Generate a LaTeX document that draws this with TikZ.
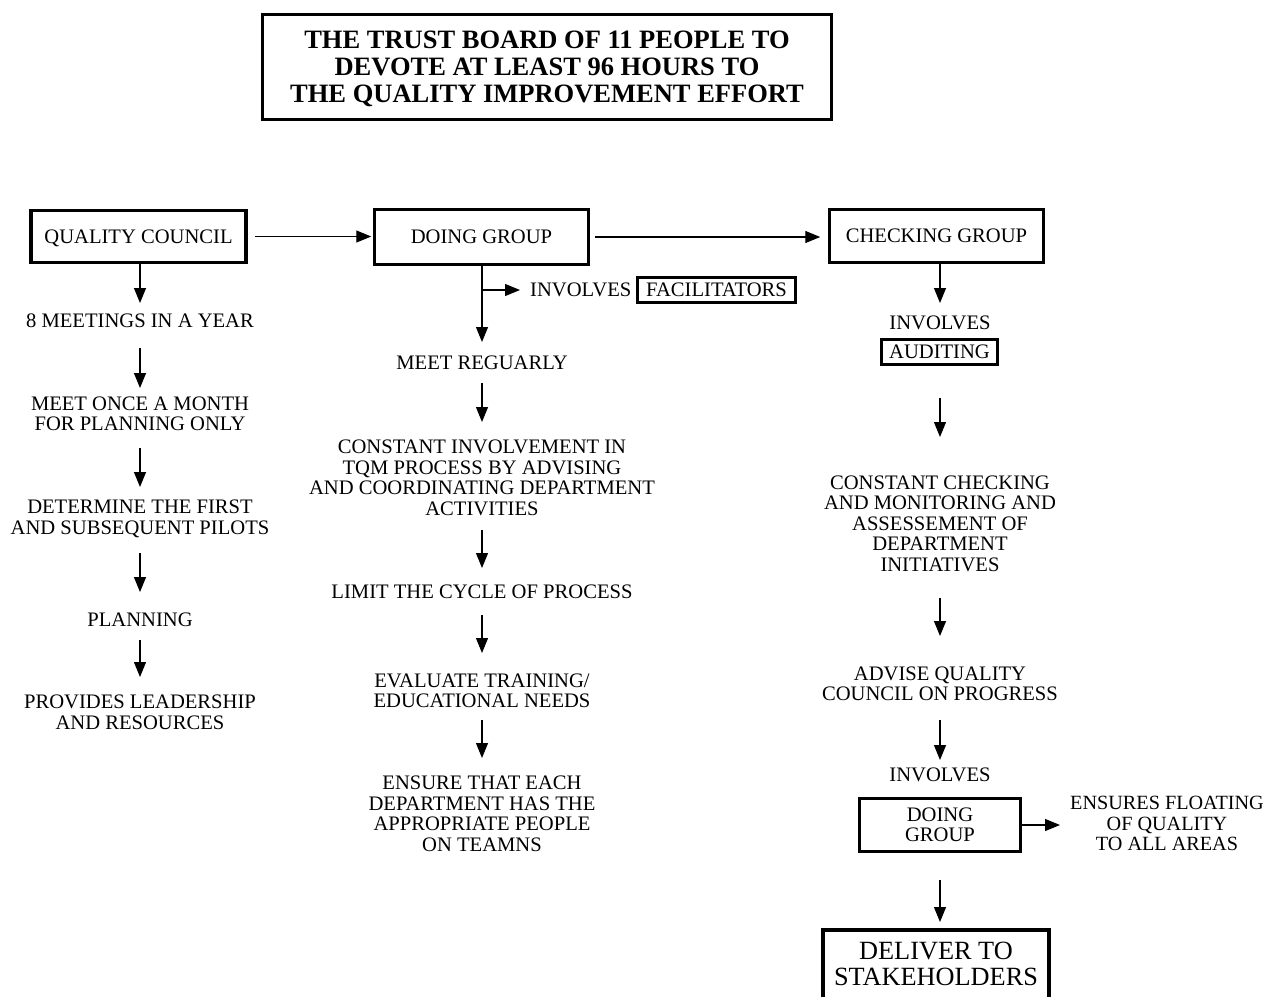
\documentclass[tikz,border=0pt]{standalone}
\usepackage{fontspec}
\setmainfont{Liberation Serif}
\usetikzlibrary{arrows.meta,calc}
\begin{document}
\begin{tikzpicture}[x=1pt,y=-1pt,
  txt/.style={align=center, inner sep=0pt, font=\fontsize{20.6}{20.5}\selectfont},
  box/.style={draw, line width=3.5pt, inner sep=0pt, align=center, font=\fontsize{20.6}{20.5}\selectfont},
  arr/.style={line width=1.2pt, -{Triangle[length=15pt,width=12pt]}},
]
\fill[white] (0,0) rectangle (1269,996);
\useasboundingbox (0,0) rectangle (1269,996);
\clip (0,0) rectangle (1269,996);

% title
\node[draw, line width=3pt, minimum width=569pt, minimum height=105pt, inner sep=0pt, align=center,
      font=\bfseries\fontsize{26.5}{27}\selectfont] (title) at (547,67)
  {THE TRUST BOARD OF 11 PEOPLE TO\\DEVOTE AT LEAST 96 HOURS TO\\THE \smash{Q}UALITY IMPROVEMENT EFFORT};

% top row boxes
\node[box, minimum width=215pt, minimum height=52pt] (qc) at (138.5,236.5) {\smash{Q}UALITY COUNCIL};
\node[box, minimum width=214pt, minimum height=55pt] (dg) at (481.5,237) {DOING GROUP};
\node[box, minimum width=214pt, minimum height=53pt] (cg) at (936.5,236) {CHECKING GROUP};

\draw[arr, shorten <=7pt, shorten >=1.5pt] (qc.east) -- (qc.east -| dg.west);
\draw[arr, shorten <=4.5pt, shorten >=7.5pt] (dg.east) -- (dg.east -| cg.west);

% left column
\node[txt] (t1) at (140,321) {8 MEETINGS IN A YEAR};
\node[txt] (t2) at (140,414) {MEET ONCE A MONTH\\FOR PLANNING ONLY};
\node[txt] (t3) at (140,517.5) {DETERMINE THE FIRST\\AND SUBSE\smash{Q}UENT PILOTS};
\node[txt] (t4) at (140,620) {PLANNING};
\node[txt] (t5) at (140,712.5) {PROVIDES LEADERSHIP\\AND RESOURCES};

\draw[arr, shorten >=18pt] (t1 |- qc.south) -- (t1.center);
\draw[arr, shorten <=27pt, shorten >=26pt] (t1.center) -- (t2.center);
\draw[arr, shorten <=34pt, shorten >=30.5pt] (t2.center) -- (t3.center);
\draw[arr, shorten <=35.5pt, shorten >=28pt] (t3.center) -- (t4.center);
\draw[arr, shorten <=20pt, shorten >=35.5pt] (t4.center) -- (t5.center);

% middle column
\node[txt, anchor=west] (inv1) at (530,290) {INVOLVES};
\node[box, line width=3pt, minimum width=158pt, minimum height=25pt] (fac) at (716.5,290) {FACILITATORS};
\node[txt] (m1) at (482,363) {MEET REGUARLY};
\node[txt] (m2) at (482,478) {CONSTANT INVOLVEMENT IN\\TQM PROCESS BY ADVISING\\AND COORDINATING DEPARTMENT\\ACTIVITIES};
\node[txt] (m3) at (482,592) {LIMIT THE CYCLE OF PROCESS};
\node[txt] (m4) at (482,691) {EVALUATE TRAINING/\\EDUCATIONAL NEEDS};
\node[txt] (m5) at (482,814) {ENSURE THAT EACH\\DEPARTMENT HAS THE\\APPROPRIATE PEOPLE\\ON TEAMNS};

\draw[arr, shorten >=21pt] (m1 |- dg.south) -- (m1.center);
\draw[arr, shorten >=10pt] (m1 |- inv1.west) -- (inv1.west);
\draw[arr, shorten <=20pt, shorten >=56pt] (m1.center) -- (m2.center);
\draw[arr, shorten <=52pt, shorten >=24pt] (m2.center) -- (m3.center);
\draw[arr, shorten <=23pt, shorten >=38pt] (m3.center) -- (m4.center);
\draw[arr, shorten <=29pt, shorten >=56pt] (m4.center) -- (m5.center);

% right column
\node[txt] (r1) at (940,323) {INVOLVES};
\node[box, line width=3pt, minimum width=116pt, minimum height=25pt] (aud) at (939.5,352) {AUDITING};
\node[txt] (r2) at (940,523.5) {CONSTANT CHECKING\\AND MONITORING AND\\ASSESSEMENT OF\\DEPARTMENT\\INITIATIVES};
\node[txt] (r3) at (940,684) {ADVISE QUALITY\\COUNCIL ON PROGRESS};
\node[txt] (r4) at (940,775) {INVOLVES};
\node[box, minimum width=161pt, minimum height=53pt] (dg2) at (940,825) {DOING\\GROUP};
\node[txt, font=\fontsize{20.2}{20.5}\selectfont] (ens) at (1167,823.5) {ENSURES FLOATING\\OF QUALITY\\TO ALL AREAS};
\node[align=center, inner sep=0pt, font=\fontsize{26.3}{26}\selectfont] (del) at (936,964) {DELIVER TO\\STAKEHOLDERS};
\draw[line width=3.5pt] (823,1010) |- (1049,930) -- (1049,1010);
\coordinate (deltop) at (940,930);

\draw[arr, shorten >=20pt] (r1 |- cg.south) -- (r1.center);
\draw[arr, shorten <=46pt, shorten >=86.5pt] (r1 |- aud.center) -- (r2.center);
\draw[arr, shorten <=74.5pt, shorten >=48pt] (r2.center) -- (r3.center);
\draw[arr, shorten <=36pt, shorten >=15pt] (r3.center) -- (r4.center);
\draw[arr, shorten >=10pt] (dg2.east) -- (dg2.east -| ens.west);
\draw[arr, shorten <=55pt, shorten >=8pt] (dg2.center) -- (deltop);
\end{tikzpicture}
\end{document}
